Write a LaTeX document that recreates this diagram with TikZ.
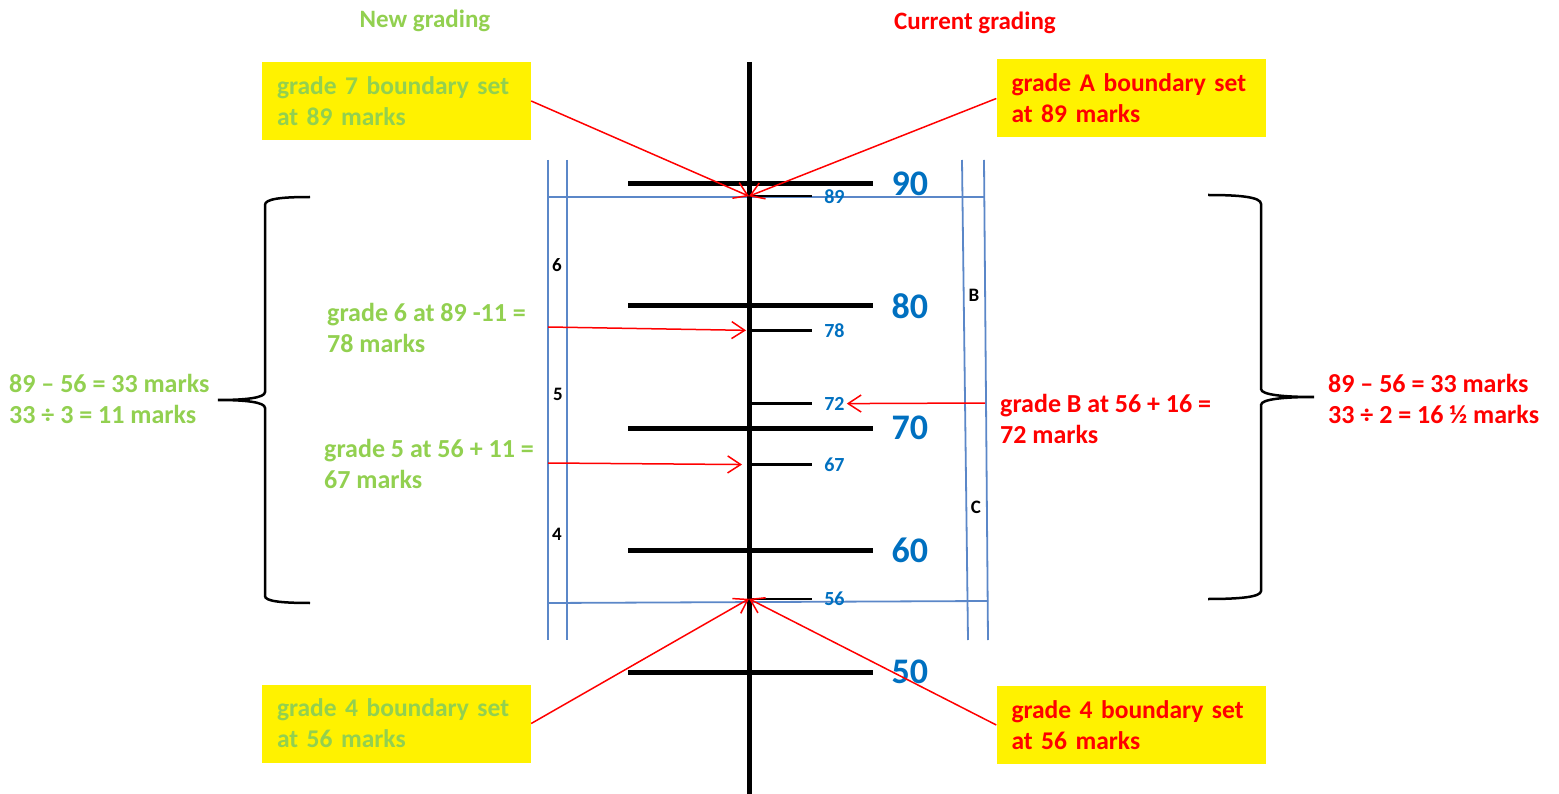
\documentclass[tikz,border=0pt]{standalone}
\usepackage{fontspec}
\setmainfont{Carlito}
\usetikzlibrary{positioning,arrows.meta}

\definecolor{newgreen}{HTML}{92D050}
\definecolor{numblue}{HTML}{0070C0}
\definecolor{lineblue}{HTML}{5B87C8}

\begin{document}
\begin{tikzpicture}[x=1pt,y=-1pt,
  txt/.style={font=\fontsize{26}{31}\selectfont\bfseries, inner sep=0pt, align=left, anchor=west},
  gradebox/.style={fill=yellow, font=\fontsize{25.5}{31}\selectfont\bfseries, align=left,
    text width=239pt, inner xsep=15pt, minimum width=269pt, minimum height=78pt},
  majortick/.style={line width=5pt},
  minortick/.style={line width=2.5pt},
  majlab/.style={numblue, font=\fontsize{36}{40}\selectfont\bfseries, inner sep=0pt, anchor=west},
  minlab/.style={numblue, font=\fontsize{20}{22}\selectfont\bfseries, inner sep=1pt, anchor=west},
  band/.style={font=\fontsize{19}{20}\selectfont\bfseries},
  blueline/.style={lineblue, line width=1.8pt},
  redarrow/.style={red, line width=1.5pt, -{Straight Barb[length=13pt,width=17pt]}},
  brace/.style={line width=2.5pt}]
  \useasboundingbox (0,0) rectangle (1559,794);

  % headers
  \node[newgreen, font=\fontsize{25}{30}\selectfont\bfseries] (newhead) at (425,21) {New grading};
  \node[red, font=\fontsize{25}{30}\selectfont\bfseries] (curhead) at (975,23) {Current grading};

  % blue band lines
  \draw[blueline] (548,160) -- (548,640);
  \draw[blueline] (567,160) -- (567,640);
  \draw[blueline] (962,160) -- (968,640);
  \draw[blueline] (984,160) -- (988,640);
  \draw[blueline] (548,197) -- (984,197);
  \draw[blueline] (548,603) -- (988,601);

  % the scale
  \coordinate (top) at (749,62);
  \coordinate (bot) at (749,794);
  \draw[majortick] (top) -- (bot);
  \foreach \v in {90,80,...,50} {
    \draw[majortick] (628,{184+(90-\v)*12.2}) -- (873,{184+(90-\v)*12.2})
      node[majlab, right=16pt] (t\v) {\v};
  }
  \foreach \v in {89,78,72,67,56} {
    \coordinate (m\v) at (749,{184+(90-\v)*12.2});
    \draw[minortick] (m\v) -- ++(63,0) node[minlab, right=10pt] (l\v) {\v};
  }

  % band letters
  \node[band] (b6) at (557,265) {6};
  \node[band] (b5) at (558,394) {5};
  \node[band] (b4) at (557,534) {4};
  \node[band] (bB) at (974,295) {B};
  \node[band] (bC) at (976,507) {C};

  % boundary boxes
  \node[gradebox, text=newgreen] (tl) at (396.5,101) {grade 7 boundary set\\at 89 marks};
  \node[gradebox, text=red] (tr) at (1131,98.5) {grade A boundary set\\at 89 marks};
  \node[gradebox, text=newgreen] (bl) at (396.5,723.5) {grade 4 boundary set\\at 56 marks};
  \node[gradebox, text=red] (br) at (1131,725) {grade 4 boundary set\\at 56 marks};
  \draw[redarrow] (tl.east) -- (m89);
  \draw[redarrow] (tr.west) -- (m89);
  \draw[redarrow] (bl.east) -- (m56);
  \draw[redarrow] (br.west) -- (m56);

  % grades in between
  \node[txt, newgreen] (g6) at (327,327.5) {grade 6 at 89 -11 =\\78 marks};
  \node[txt, newgreen] (g5) at (324,463.5) {grade 5 at 56 + 11 =\\67 marks};
  \node[txt, red] (gB) at (1000,419) {grade B at 56 + 16 =\\72 marks};
  \coordinate (s6) at (548,327);
  \coordinate (s5) at (548,463);
  \coordinate (sB) at (985,403);
  \draw[redarrow, shorten >=3pt] (s6) -- (m78);
  \draw[redarrow, shorten >=7pt] (s5) -- (m67);
  \draw[redarrow] (sB) -- (l72.east);

  % braces and sums
  \draw[brace] (310,197) .. controls (280,197) and (265,199) .. (265,205) -- (265,392)
    .. controls (265,398) and (245,400) .. (218,400)
    .. controls (245,400) and (265,402) .. (265,408) -- (265,596)
    .. controls (265,601) and (280,603) .. (310,603);
  \draw[brace] (1208,195) .. controls (1240,195) and (1261,197) .. (1261,204) -- (1261,389)
    .. controls (1261,395) and (1285,397) .. (1314,397)
    .. controls (1285,397) and (1261,399) .. (1261,405) -- (1261,591)
    .. controls (1261,597) and (1240,599) .. (1208,599);
  \node[txt, newgreen] (sumnew) at (9,399) {89 – 56 = 33 marks\\33 ÷ 3 = 11 marks};
  \node[txt, red] (sumcur) at (1328,399) {89 – 56 = 33 marks\\33 ÷ 2 = 16 ½ marks};
\end{tikzpicture}
\end{document}
